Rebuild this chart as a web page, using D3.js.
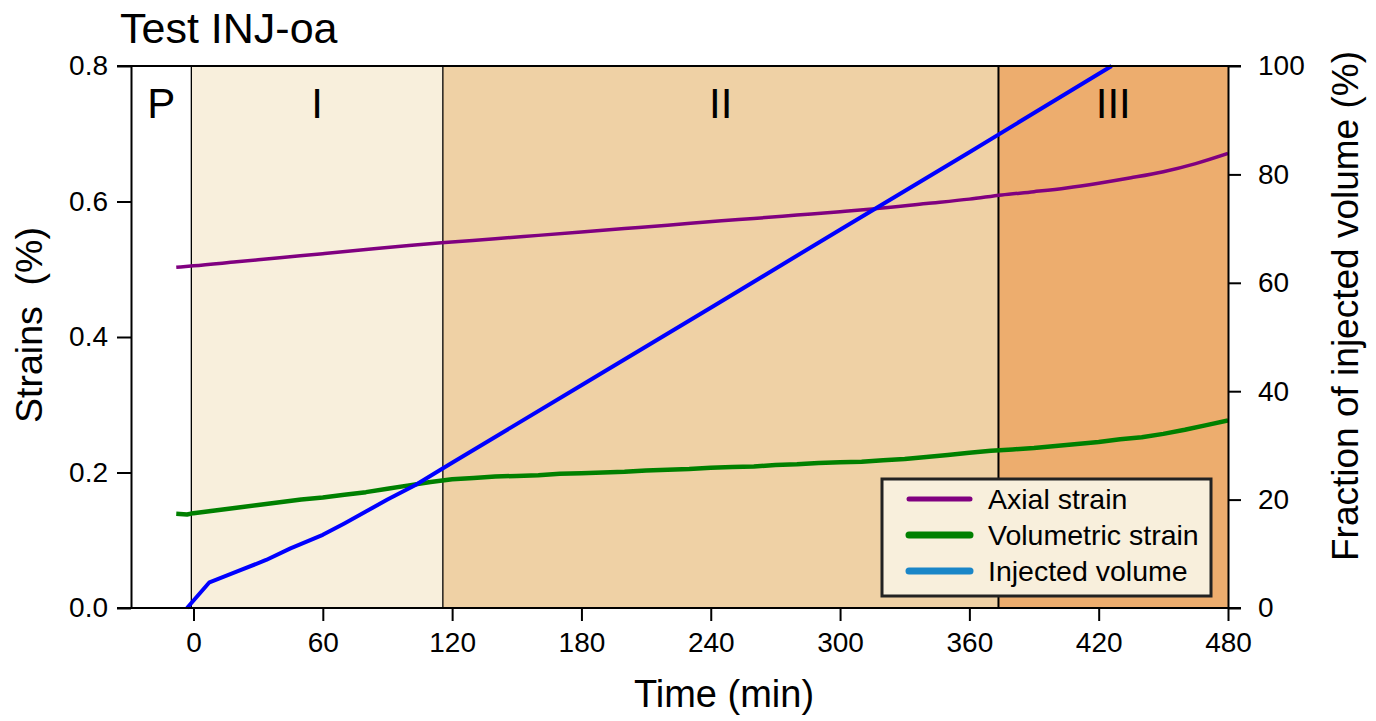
<!DOCTYPE html>
<html>
<head>
<meta charset="utf-8">
<script src="https://cdn.jsdelivr.net/npm/d3@7"></script>
<style>
  html, body { margin: 0; padding: 0; background: #ffffff; }
  svg { display: block; font-family: "Liberation Sans", Arial, sans-serif; }
</style>
</head>
<body>
<svg id="chart" width="1376" height="721"></svg>
<script>
// ---------------- data ----------------
const titleText = "Test INJ-oa";
const xTicks = [0, 60, 120, 180, 240, 300, 360, 420, 480];
const yLeftTicks = [0.0, 0.2, 0.4, 0.6, 0.8];
const yRightTicks = [0, 20, 40, 60, 80, 100];

const phaseNames = ["P", "I", "II", "III"];
const phaseStart = [-29, -1, 115.7, 373.5];
const phaseEnd = [-1, 115.7, 373.5, 480];
const phaseColors = ["#ffffff", "#f8efdc", "#efd1a5", "#edad6e"];

const axialTime = [-8, 0, 20, 40, 60, 80, 100, 115, 140, 160, 180, 200, 220, 245, 260, 280, 300, 315, 340, 360, 375, 390, 405, 420, 435, 450, 465, 480];
const axialStrain = [0.503, 0.505, 0.511, 0.517, 0.523, 0.529, 0.535, 0.539, 0.545, 0.550, 0.555, 0.560, 0.565, 0.5717, 0.575, 0.580, 0.585, 0.589, 0.597, 0.6035, 0.6095, 0.6145, 0.620, 0.627, 0.635, 0.644, 0.656, 0.671];

const volTime = [-8, -3, 0, 10, 20, 30, 40, 50, 60, 70, 80, 90, 100, 110, 120, 130, 140, 150, 160, 170, 180, 190, 200, 210, 220, 230, 240, 250, 260, 270, 280, 290, 300, 310, 320, 330, 340, 350, 360, 370, 380, 390, 400, 410, 420, 430, 440, 450, 460, 470, 480];
const volStrain = [0.139, 0.138, 0.140, 0.144, 0.148, 0.152, 0.156, 0.160, 0.163, 0.167, 0.171, 0.176, 0.181, 0.186, 0.190, 0.192, 0.194, 0.195, 0.196, 0.198, 0.199, 0.200, 0.201, 0.203, 0.204, 0.205, 0.207, 0.208, 0.209, 0.211, 0.212, 0.214, 0.215, 0.216, 0.218, 0.220, 0.223, 0.226, 0.229, 0.232, 0.234, 0.236, 0.239, 0.242, 0.245, 0.249, 0.252, 0.257, 0.263, 0.270, 0.277];

const injTime = [-3, 7.4, 20, 33.7, 45, 60, 70, 80, 90, 103, 115, 120, 180, 240, 300, 360, 426];
const injVolume = [0, 4.74, 6.7, 8.86, 11.0, 13.5, 15.6, 17.8, 20.0, 22.7, 25.6, 26.8, 41.1, 55.4, 69.8, 84.1, 100];

const legendLabels = ["Axial strain", "Volumetric strain", "Injected volume"];
const legendColors = ["#800080", "#008000", "#1a86c8"];
const seriesColors = ["#800080", "#008000", "#0000ff"];

// ---------------- layout ----------------
const svg = d3.select("#chart");
const L = 131, R = 1228, T = 66, B = 608;

const x = d3.scaleLinear().domain([-29, 480]).range([L, R]);
const yL = d3.scaleLinear().domain([0, 0.8]).range([B, T]);
const yR = d3.scaleLinear().domain([0, 100]).range([B, T]);

// phase backgrounds
svg.append("g").selectAll("rect").data(phaseNames).join("rect")
  .attr("x", (d, i) => x(phaseStart[i]))
  .attr("y", T)
  .attr("width", (d, i) => x(phaseEnd[i]) - x(phaseStart[i]))
  .attr("height", B - T)
  .attr("fill", (d, i) => phaseColors[i]);

// phase boundaries
const bounds = [phaseStart[1], phaseStart[2], phaseStart[3]];
const boundW = [1.3, 1.3, 2];
svg.append("g").selectAll("line").data(bounds).join("line")
  .attr("x1", d => x(d)).attr("x2", d => x(d))
  .attr("y1", T).attr("y2", B)
  .attr("stroke", "#000").attr("stroke-width", (d, i) => boundW[i]);

// phase labels
svg.append("g").selectAll("text").data(phaseNames).join("text")
  .attr("x", (d, i) => (x(phaseStart[i]) + x(phaseEnd[i])) / 2)
  .attr("y", 118)
  .attr("text-anchor", "middle")
  .attr("font-size", 42)
  .attr("fill", "#000")
  .text(d => d);

// lines
svg.append("clipPath").attr("id", "clip")
  .append("rect").attr("x", L).attr("y", T - 2).attr("width", R - L).attr("height", B - T + 4);

const lineAx = d3.line().x((d, i) => x(axialTime[i])).y(d => yL(d)).curve(d3.curveMonotoneX);
const lineVol = d3.line().x((d, i) => x(volTime[i])).y(d => yL(d));
const lineInj = d3.line().x((d, i) => x(injTime[i])).y(d => yR(d));

const gl = svg.append("g").attr("clip-path", "url(#clip)");
gl.append("path").datum(volStrain).attr("d", lineVol)
  .attr("fill", "none").attr("stroke", seriesColors[1]).attr("stroke-width", 4.5).attr("stroke-linejoin", "round");
gl.append("path").datum(axialStrain).attr("d", lineAx)
  .attr("fill", "none").attr("stroke", seriesColors[0]).attr("stroke-width", 3.5);
gl.append("path").datum(injVolume).attr("d", lineInj)
  .attr("fill", "none").attr("stroke", seriesColors[2]).attr("stroke-width", 4).attr("stroke-linejoin", "round");

// frame top/bottom lines extend over ticks
svg.append("line").attr("x1", L - 14).attr("x2", R + 13).attr("y1", T).attr("y2", T)
  .attr("stroke", "#000").attr("stroke-width", 2);
svg.append("line").attr("x1", L - 14).attr("x2", R + 13).attr("y1", B).attr("y2", B)
  .attr("stroke", "#000").attr("stroke-width", 2);

// axes
function styleAxis(g) {
  g.select(".domain").attr("stroke", "#000").attr("stroke-width", 2);
  g.selectAll(".tick line").attr("stroke", "#000").attr("stroke-width", 2);
  g.selectAll(".tick text").attr("fill", "#000").attr("font-size", 28)
    .attr("font-family", "'Liberation Sans', Arial, sans-serif");
}

const gx = svg.append("g").attr("transform", `translate(0,${B})`)
  .call(d3.axisBottom(x).tickValues(xTicks).tickSize(13).tickSizeOuter(0).tickPadding(11).tickFormat(d3.format("d")));
styleAxis(gx);
gx.select(".domain").remove();

const gyl = svg.append("g").attr("transform", `translate(${L},0)`)
  .call(d3.axisLeft(yL).tickValues(yLeftTicks).tickSize(14).tickSizeOuter(0).tickPadding(9).tickFormat(d3.format(".1f")));
styleAxis(gyl);

const gyr = svg.append("g").attr("transform", `translate(${R},0)`)
  .call(d3.axisRight(yR).tickValues(yRightTicks).tickSize(13).tickSizeOuter(0).tickPadding(17).tickFormat(d3.format("d")));
styleAxis(gyr);

// titles
svg.append("text").attr("x", 120).attr("y", 43).attr("font-size", 43).attr("fill", "#000").text(titleText);

svg.append("text").attr("x", 724).attr("y", 707).attr("text-anchor", "middle")
  .attr("font-size", 38).attr("fill", "#000").text("Time (min)");

svg.append("text").attr("transform", "translate(42,325) rotate(-90)").attr("text-anchor", "middle")
  .attr("font-size", 37.5).attr("fill", "#000").style("white-space", "pre").text("Strains  (%)");

svg.append("text").attr("transform", "translate(1358,306) rotate(-90)").attr("text-anchor", "middle")
  .attr("font-size", 37).attr("fill", "#000").text("Fraction of injected volume (%)");

// legend
const lg = svg.append("g");
lg.append("rect").attr("x", 882).attr("y", 479).attr("width", 329).attr("height", 117)
  .attr("fill", "#f8efdc").attr("stroke", "#222").attr("stroke-width", 3);
const legW = [5, 7, 7];
const items = lg.selectAll("g.item").data(legendLabels).join("g").attr("class", "item")
  .attr("transform", (d, i) => `translate(0,${499 + i * 36})`);
items.append("line").attr("x1", 909).attr("x2", 970).attr("y1", 0).attr("y2", 0)
  .attr("stroke", (d, i) => legendColors[i]).attr("stroke-width", (d, i) => legW[i]).attr("stroke-linecap", "round");
items.append("text").attr("x", 988).attr("y", 0).attr("dy", "0.35em")
  .attr("font-size", 28.5).attr("fill", "#000").text(d => d);
</script>
</body>
</html>
